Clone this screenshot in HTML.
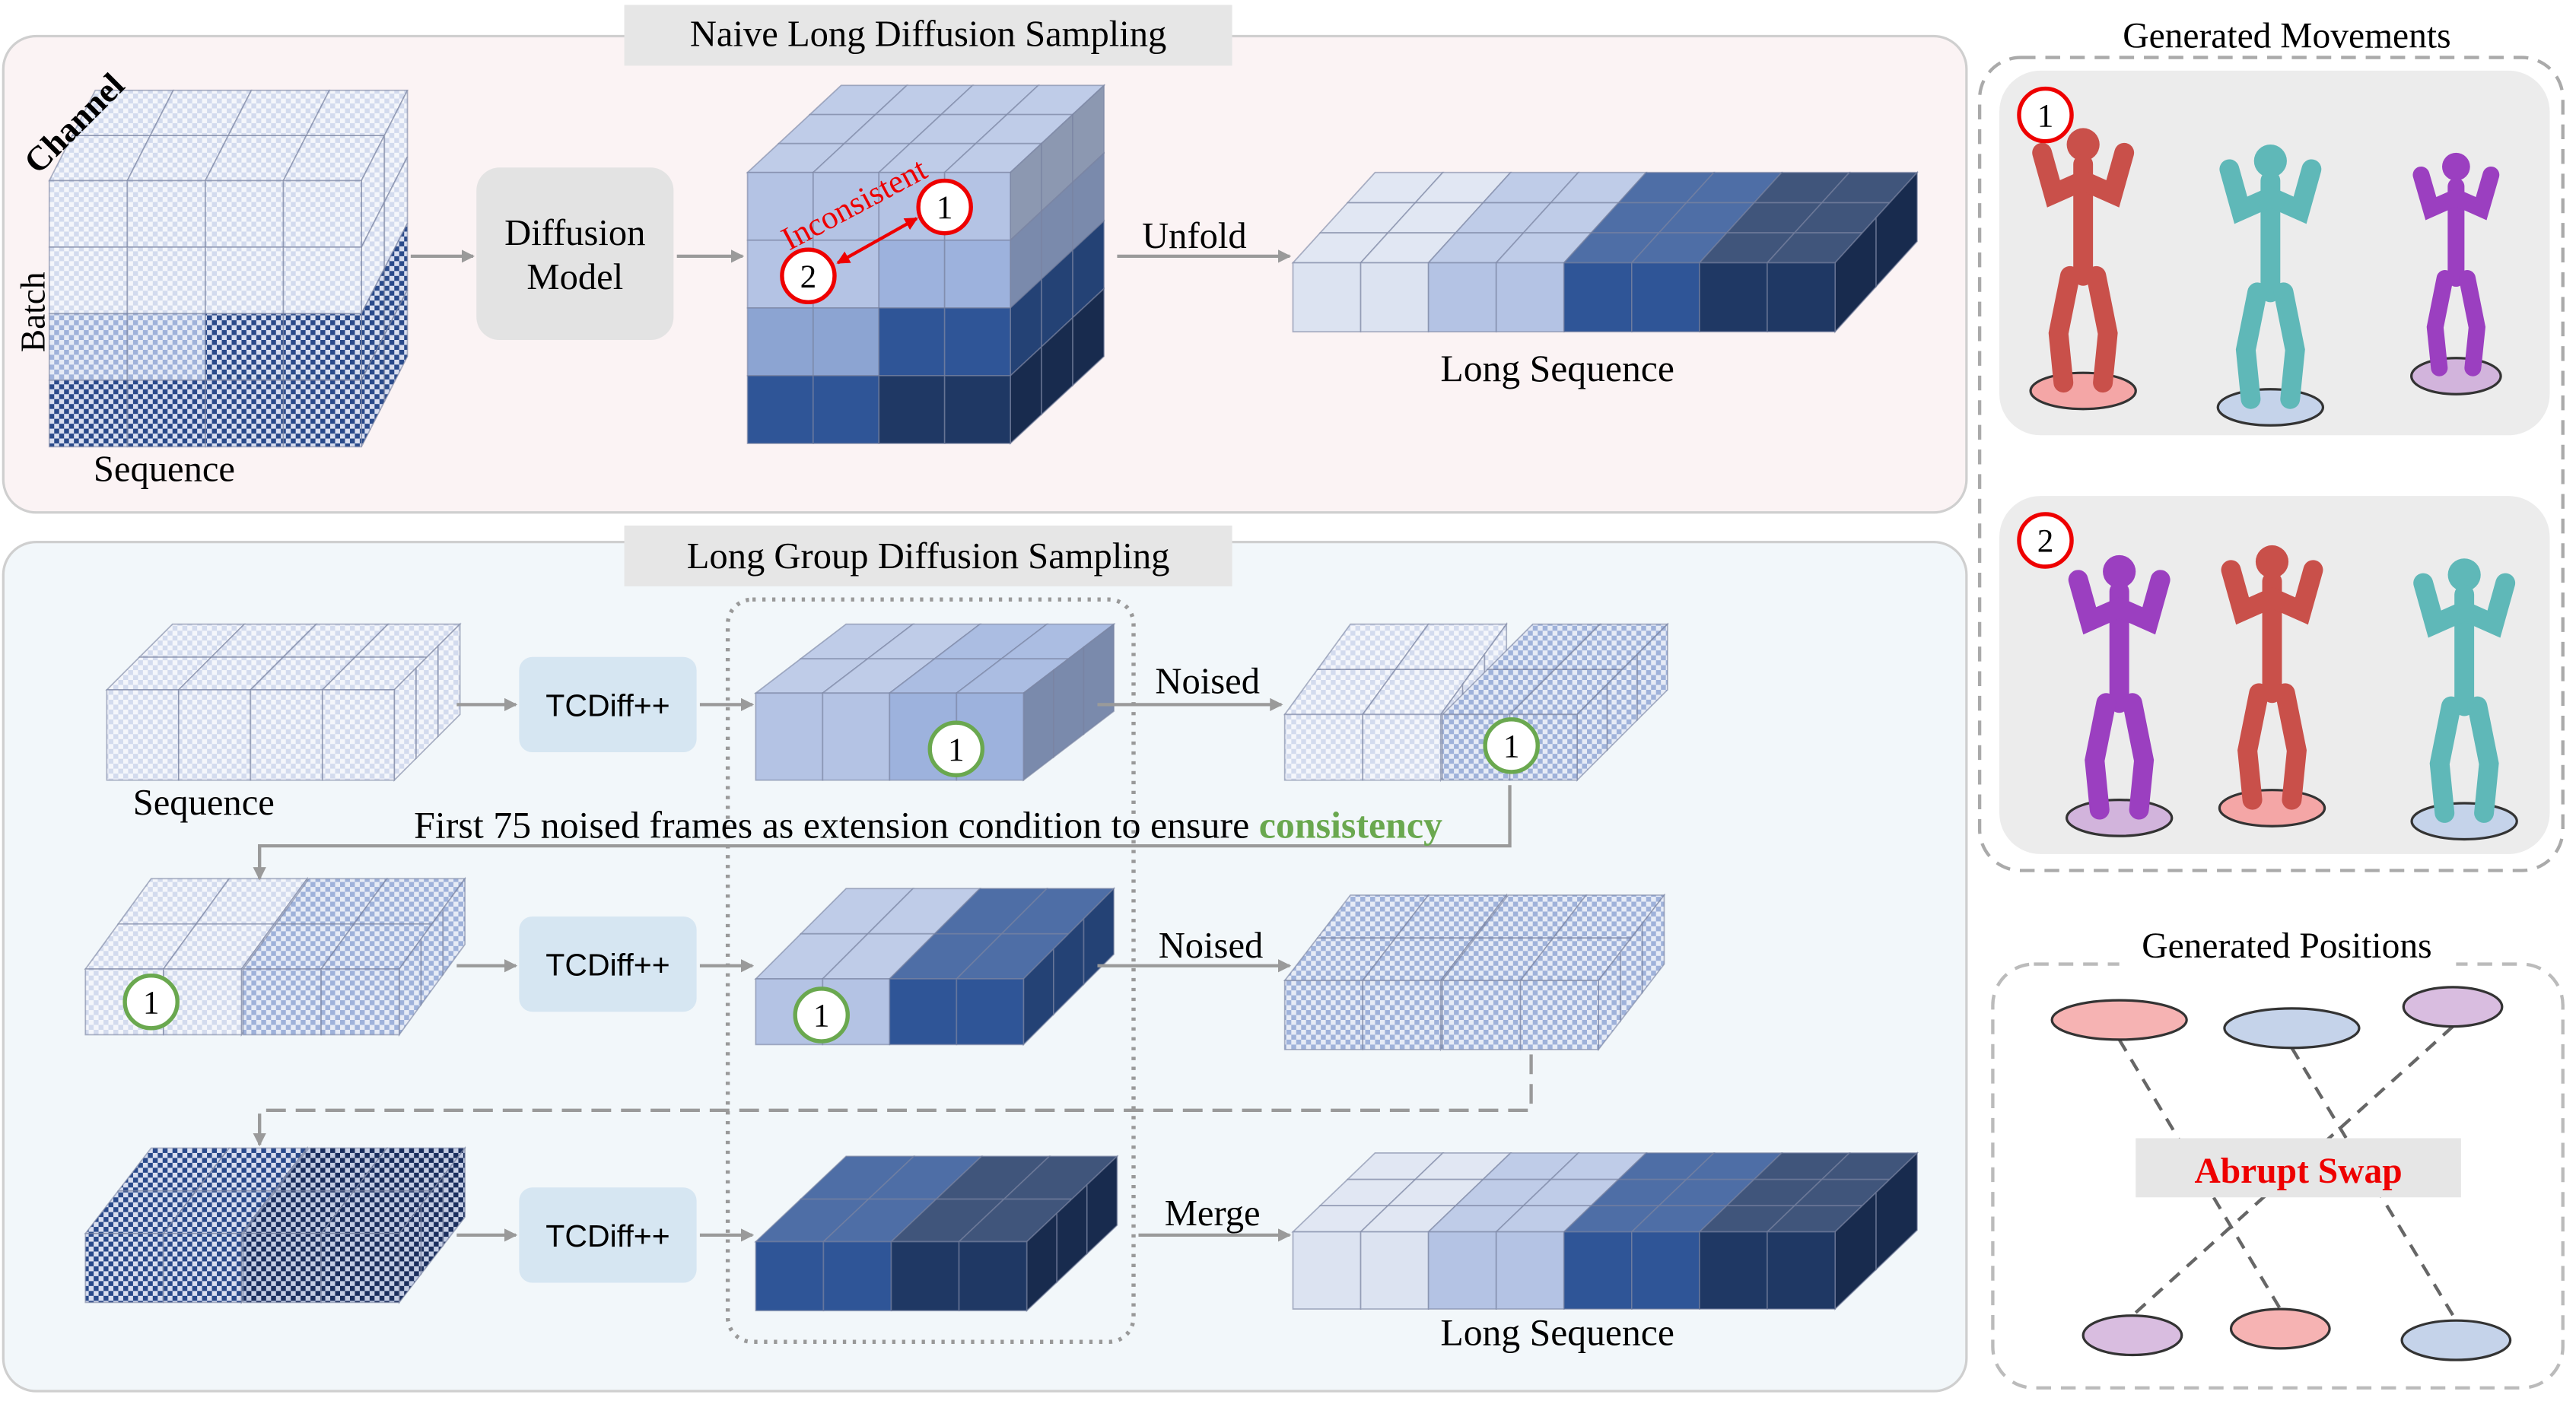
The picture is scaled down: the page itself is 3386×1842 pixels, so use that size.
<!DOCTYPE html>
<html><head><meta charset="utf-8"><style>
html,body{margin:0;padding:0;background:#fff}
svg{display:block}
text{font-family:"Liberation Serif",serif}
</style></head><body>
<svg id="s" width="3386" height="1842" viewBox="0 0 1568 853" xmlns="http://www.w3.org/2000/svg">
<defs>
<pattern id="c1" width="6" height="6" patternUnits="userSpaceOnUse"><rect width="6" height="6" fill="#f4f6fb"/><rect width="3" height="3" fill="#d3dbee"/><rect x="3" y="3" width="3" height="3" fill="#d3dbee"/></pattern>
<pattern id="c2" width="6" height="6" patternUnits="userSpaceOnUse"><rect width="6" height="6" fill="#e6ebf6"/><rect width="3" height="3" fill="#9fb2da"/><rect x="3" y="3" width="3" height="3" fill="#9fb2da"/></pattern>
<pattern id="c3" width="6" height="6" patternUnits="userSpaceOnUse"><rect width="6" height="6" fill="#d8def0"/><rect width="3" height="3" fill="#2a4a8a"/><rect x="3" y="3" width="3" height="3" fill="#2a4a8a"/></pattern>
<pattern id="c4" width="6" height="6" patternUnits="userSpaceOnUse"><rect width="6" height="6" fill="#c4cde4"/><rect width="3" height="3" fill="#1b2f5e"/><rect x="3" y="3" width="3" height="3" fill="#1b2f5e"/></pattern>
<marker id="ar" markerWidth="8" markerHeight="8" refX="7" refY="4" orient="auto" markerUnits="userSpaceOnUse"><path d="M0,0L8,4L0,8z" fill="#9a9a9a"/></marker>
<marker id="rr" markerWidth="8" markerHeight="8" refX="7" refY="4" orient="auto-start-reverse" markerUnits="userSpaceOnUse"><path d="M0,0L8,4L0,8z" fill="#e00"/></marker>
</defs>
<rect x="2" y="22" width="1195" height="290" rx="20" fill="#fbf3f4" stroke="#cfcfcf" stroke-width="1.5"/>
<rect x="380" y="3" width="370" height="37" fill="#e6e6e6"/>
<text x="565" y="28" font-size="22.5" text-anchor="middle">Naive Long Diffusion Sampling</text>
<rect x="2" y="330" width="1195" height="517" rx="20" fill="#f2f7fa" stroke="#cfcfcf" stroke-width="1.5"/>
<rect x="380" y="320" width="370" height="37" fill="#e6e6e6"/>
<text x="565" y="346" font-size="22.5" text-anchor="middle">Long Group Diffusion Sampling</text>
<rect x="1205" y="35" width="355" height="495" rx="25" fill="none" stroke="#aaa" stroke-width="2" stroke-dasharray="9,6"/>
<text x="1392" y="29" font-size="22" text-anchor="middle">Generated Movements</text>
<rect x="1217" y="43" width="335" height="222" rx="25" fill="#ececec"/>
<rect x="1217" y="302" width="335" height="218" rx="25" fill="#ececec"/>
<rect x="1213" y="587" width="347" height="258" rx="25" fill="none" stroke="#bbb" stroke-width="2" stroke-dasharray="9,6"/>
<rect x="1290" y="570" width="205" height="22" fill="#fff"/>
<text x="1392" y="583" font-size="22" text-anchor="middle">Generated Positions</text>
<g id="g"></g>
<rect x="443" y="365" width="247" height="452" rx="15" fill="none" stroke="#999" stroke-width="2.5" stroke-dasharray="2,4"/>
<rect x="290" y="102" width="120" height="105" rx="14" fill="#e3e3e3"/>
<text x="350" y="149" font-size="22.5" text-anchor="middle">Diffusion</text>
<text x="350" y="176" font-size="22.5" text-anchor="middle">Model</text>
<g font-size="19" text-anchor="middle">
<rect x="316" y="400" width="108" height="58" rx="8" fill="#d6e6f2"/><text x="370" y="436" style="font-family:'Liberation Sans',sans-serif">TCDiff++</text>
<rect x="316" y="558" width="108" height="58" rx="8" fill="#d6e6f2"/><text x="370" y="594" style="font-family:'Liberation Sans',sans-serif">TCDiff++</text>
<rect x="316" y="723" width="108" height="58" rx="8" fill="#d6e6f2"/><text x="370" y="759" style="font-family:'Liberation Sans',sans-serif">TCDiff++</text>
</g>
<g stroke="#9a9a9a" stroke-width="2" fill="none" marker-end="url(#ar)">
<line x1="250" y1="156" x2="288" y2="156"/>
<line x1="412" y1="156" x2="452" y2="156"/>
<line x1="680" y1="156" x2="785" y2="156"/>
<line x1="278" y1="429" x2="314" y2="429"/>
<line x1="426" y1="429" x2="458" y2="429"/>
<line x1="668" y1="429" x2="780" y2="429"/>
<line x1="278" y1="588" x2="314" y2="588"/>
<line x1="426" y1="588" x2="458" y2="588"/>
<line x1="668" y1="588" x2="785" y2="588"/>
<line x1="278" y1="752" x2="314" y2="752"/>
<line x1="426" y1="752" x2="458" y2="752"/>
<line x1="693" y1="752" x2="785" y2="752"/>
<polyline points="919,478 919,515 158,515 158,535"/>
<polyline points="932,642 932,676 158,676 158,697" stroke-dasharray="12,6"/>
</g>
<text x="727" y="151" font-size="22.5" text-anchor="middle">Unfold</text>
<text x="735" y="422" font-size="22.5" text-anchor="middle">Noised</text>
<text x="737" y="583" font-size="22.5" text-anchor="middle">Noised</text>
<text x="738" y="746" font-size="22.5" text-anchor="middle">Merge</text>
<text x="948" y="232" font-size="23" text-anchor="middle">Long Sequence</text>
<text x="948" y="819" font-size="23" text-anchor="middle">Long Sequence</text>
<text x="100" y="293" font-size="22.5" text-anchor="middle">Sequence</text>
<text x="124" y="496" font-size="22.5" text-anchor="middle">Sequence</text>
<text x="27" y="190" font-size="21" text-anchor="middle" transform="rotate(-90 27 190)">Batch</text>
<text x="50" y="80" font-size="21" font-weight="bold" text-anchor="middle" transform="rotate(-45 50 80)">Channel</text>
<text x="252" y="510" font-size="22.8" textLength="626" lengthAdjust="spacingAndGlyphs">First 75 noised frames as extension condition to ensure <tspan fill="#6aa84f" font-weight="bold">consistency</tspan></text>
<text x="523" y="130" font-size="20" fill="#e00" text-anchor="middle" transform="rotate(-28 523 130)">Inconsistent</text>
<line x1="510" y1="160" x2="558" y2="133" stroke="#e00" stroke-width="2" marker-end="url(#rr)" marker-start="url(#rr)"/>
</svg>
<script>
var NS="http://www.w3.org/2000/svg",G=document.getElementById('g'),S=document.getElementById('s');
function el(t,a,p){var e=document.createElementNS(NS,t);for(var k in a)e.setAttribute(k,a[k]);(p||G).appendChild(e);return e;}
function dark(c){if(c[0]!='#')return c;var n=parseInt(c.slice(1),16),r=n>>16,g=(n>>8)&255,b=n&255;return 'rgb('+(r*.78|0)+','+(g*.78|0)+','+(b*.78|0)+')';}
function light(c){if(c[0]!='#')return c;var n=parseInt(c.slice(1),16),r=n>>16,g=(n>>8)&255,b=n&255;return 'rgb('+((r+(255-r)*.15)|0)+','+((g+(255-g)*.15)|0)+','+((b+(255-b)*.15)|0)+')';}
function cube(x,y,w,h,F,dx,dy,tr,dr){
 var R=F.length,C=F[0].length,cw=w/C,rh=h/R,sc="rgba(120,130,160,0.6)";
 tr=tr||2;dr=dr||2;
 for(var i=0;i<tr;i++)for(var j=0;j<C;j++){
  var a=i/tr,b=(i+1)/tr;
  var x0=x+j*cw+dx*a,y0=y-dy*a,x1=x+(j+1)*cw+dx*a,x2=x+(j+1)*cw+dx*b,x3=x+j*cw+dx*b,y1=y-dy*b;
  el('polygon',{points:x0+','+y0+' '+x1+','+y0+' '+x2+','+y1+' '+x3+','+y1,fill:light(F[0][j]),stroke:sc,'stroke-width':0.8});}
 for(var i=0;i<R;i++)for(var k=0;k<dr;k++){
  var a=k/dr,b=(k+1)/dr,c=F[i][C-1];
  var px=x+w+dx*a,py=y+i*rh-dy*a,qx=x+w+dx*b,qy=y+i*rh-dy*b;
  el('polygon',{points:px+','+py+' '+qx+','+qy+' '+qx+','+(qy+rh)+' '+px+','+(py+rh),fill:dark(c),stroke:sc,'stroke-width':0.8});}
 for(var i=0;i<R;i++)for(var j=0;j<C;j++)el('rect',{x:x+j*cw,y:y+i*rh,width:cw,height:rh,fill:F[i][j],stroke:sc,'stroke-width':0.8});
}
function rep(v,n){var a=[];for(var i=0;i<n;i++)a.push(v);return a;}
function circ(x,y,n,col){el('circle',{cx:x,cy:y,r:16,fill:'#fff',stroke:col,'stroke-width':2.5},S);var t=el('text',{x:x,y:y+7,'font-size':20,'text-anchor':'middle'},S);t.textContent=n;}
var L='#dce3f1',L2='#b4c3e4',M='#9db2dd',M2='#8ca4d2',D='#2f5597',D2='#1f3864';
cube(30,110,190,162,[rep('url(#c1)',4),rep('url(#c1)',4),['url(#c2)','url(#c2)','url(#c3)','url(#c3)'],rep('url(#c3)',4)],28,55,2,2);
cube(455,105,160,165,[[L2,L2,L2,L2],[L2,L2,M,M],[M2,M2,D,D],[D,D,D2,D2]],57,53,3,3);
var LS=[L,L,L2,L2,D,D,D2,D2];
cube(787,160,330,42,[LS],50,55,3,2);
cube(787,750,330,47,[LS],50,48,3,2);
cube(65,420,175,55,[rep('url(#c1)',4)],40,40,2,3);
cube(460,422,163,53,[[L2,L2,M,M]],55,42,2,3);
cube(782,435,95,40,[rep('url(#c1)',2)],40,55,2,3);
cube(878,435,82,40,[rep('url(#c2)',2)],55,55,2,3);
cube(52,590,95,40,[rep('url(#c1)',2)],40,55,2,3);
cube(148,590,95,40,[rep('url(#c2)',2)],40,55,2,3);
cube(460,596,163,40,[[L2,L2,D,D]],55,55,2,3);
cube(782,597,95,42,[rep('url(#c2)',2)],40,52,2,3);
cube(878,597,95,42,[rep('url(#c2)',2)],40,52,2,3);
cube(52,751,95,42,[rep('url(#c3)',2)],40,52,2,3);
cube(148,751,95,42,[rep('url(#c4)',2)],40,52,2,3);
cube(460,756,165,42,[[D,D,D2,D2]],55,52,2,3);
circ(575,126,'1','#e00');circ(492,168,'2','#e00');
circ(582,456,'1','#6aa84f');circ(920,454,'1','#6aa84f');circ(92,610,'1','#6aa84f');circ(500,618,'1','#6aa84f');
circ(1245,70,'1','#e00');circ(1245,329,'2','#e00');
function fig(cx,base,col,sh,s){
 el('ellipse',{cx:cx,cy:base,rx:32*s,ry:11,fill:sh,stroke:'#333','stroke-width':1.5},S);
 var g=el('g',{stroke:col,'stroke-width':12*s,'stroke-linecap':'round',fill:'none'},S);
 var h=base-150*s;
 el('circle',{cx:cx,cy:h,r:10*s,fill:col,stroke:'none'},g);
 el('polyline',{points:cx+','+(h+12)+' '+cx+','+(h+80*s)},g);
 el('polyline',{points:(cx-25*s)+','+(h+5)+' '+(cx-18*s)+','+(h+30*s)+' '+cx+','+(h+22*s)+' '+(cx+18*s)+','+(h+30*s)+' '+(cx+25*s)+','+(h+5)},g);
 el('polyline',{points:(cx-8*s)+','+(h+80*s)+' '+(cx-15*s)+','+(h+115*s)+' '+(cx-12*s)+','+(base-5)},g);
 el('polyline',{points:(cx+8*s)+','+(h+80*s)+' '+(cx+15*s)+','+(h+115*s)+' '+(cx+12*s)+','+(base-5)},g);
}
fig(1268,238,'#c9504a','#f4a6a6',1);fig(1382,248,'#5fb8b8','#c5d3ea',1);fig(1495,229,'#9b3fc0','#d2b4dc',0.85);
fig(1290,498,'#9b3fc0','#d2b4dc',1);fig(1383,492,'#c9504a','#f4a6a6',1);fig(1500,500,'#5fb8b8','#c5d3ea',1);
var P=[[1290,621,'#f6b3b3',41],[1395,626,'#c5d3ea',41],[1493,613,'#d9bde0',30],[1298,813,'#d9bde0',30],[1388,809,'#f6b3b3',30],[1495,816,'#c5d3ea',33]];
[[0,4],[1,5],[2,3]].forEach(function(p){el('line',{x1:P[p[0]][0],y1:P[p[0]][1]+12,x2:P[p[1]][0],y2:P[p[1]][1]-12,stroke:'#666','stroke-width':2,'stroke-dasharray':'8,6'},S);});
P.forEach(function(p){el('ellipse',{cx:p[0],cy:p[1],rx:p[3],ry:12,fill:p[2],stroke:'#333','stroke-width':1.5},S);});
el('rect',{x:1300,y:693,width:198,height:36,fill:'#e6e6e6'},S);
var t=el('text',{x:1399,y:720,'font-size':22,'font-weight':'bold',fill:'#e00','text-anchor':'middle'},S);t.textContent='Abrupt Swap';
</script>
</body></html>
